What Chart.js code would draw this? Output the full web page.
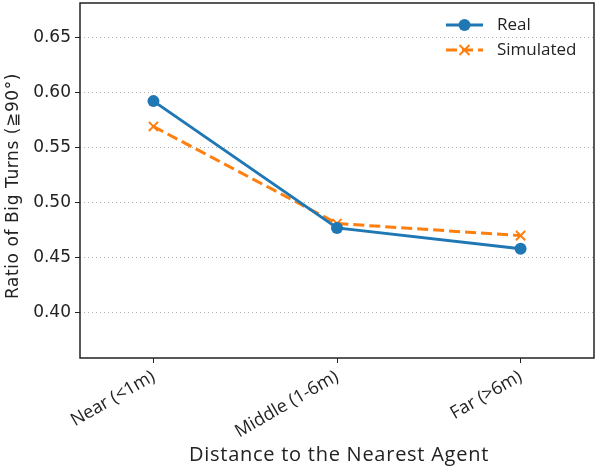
<!DOCTYPE html>
<html>
<head>
<meta charset="utf-8">
<script src="https://cdn.jsdelivr.net/npm/chart.js@4"></script>
<style>
  html, body { margin: 0; padding: 0; background: #fff; }
  #wrap { width: 597px; height: 469px; }
</style>
</head>
<body>
<div id="wrap"><canvas id="myChart" width="597" height="469"></canvas></div>
<script>
const categories = ['Near (<1m)', 'Middle (1-6m)', 'Far (>6m)'];
const realValues = [0.592, 0.477, 0.458];
const simValues = [0.569, 0.481, 0.470];
const yTicks = [0.40, 0.45, 0.50, 0.55, 0.60, 0.65];

const blue = '#1f77b4';
const orange = '#ff7f0e';
const tickFont = '"DejaVu Sans", sans-serif';
const labelFont = '"Open Sans", sans-serif';

// draw text so that it fills a given width
function fitText(c, text, x, y, width) {
    c.letterSpacing = '0px';
    const w = c.measureText(text).width;
    c.letterSpacing = ((width - w) / text.length) + 'px';
    c.fillText(text, x, y);
    c.letterSpacing = '0px';
}

// frame, axis titles and legend
const extras = {
    id: 'extras',
    afterDraw(chart) {
        const c = chart.ctx;
        const a = chart.chartArea;
        c.save();
        c.strokeStyle = '#222';
        c.lineWidth = 1.5;
        c.strokeRect(a.left, a.top, a.right - a.left, a.bottom - a.top);

        c.fillStyle = '#222';
        c.font = '20px ' + labelFont;
        c.textAlign = 'center';
        c.textBaseline = 'middle';
        fitText(c, 'Distance to the Nearest Agent', (a.left + a.right) / 2 + 2, 455, 300);

        c.translate(14, 186);
        c.rotate(-Math.PI / 2);
        c.font = '17px ' + tickFont;
        fitText(c, 'Ratio of Big Turns (\u226790\u00b0)', 0, 0, 226);
        c.restore();

        // legend
        c.save();
        const items = [
            { label: 'Real', color: blue, dash: [], marker: 'circle', y: 25 },
            { label: 'Simulated', color: orange, dash: [11, 5], marker: 'cross', y: 50 }
        ];
        items.forEach(it => {
            c.strokeStyle = it.color;
            c.lineWidth = 3;
            c.setLineDash(it.dash);
            c.beginPath();
            c.moveTo(446, it.y);
            c.lineTo(483, it.y);
            c.stroke();
            c.setLineDash([]);
            if (it.marker === 'circle') {
                c.fillStyle = it.color;
                c.beginPath();
                c.arc(464.5, it.y, 6, 0, Math.PI * 2);
                c.fill();
            } else {
                c.lineWidth = 2;
                c.beginPath();
                c.moveTo(459.5, it.y - 5); c.lineTo(469.5, it.y + 5);
                c.moveTo(469.5, it.y - 5); c.lineTo(459.5, it.y + 5);
                c.stroke();
            }
            c.fillStyle = '#222';
            c.font = '17px ' + labelFont;
            c.textAlign = 'left';
            c.textBaseline = 'middle';
            c.fillText(it.label, 497, it.y);
        });
        c.restore();
    }
};

const ctx = document.getElementById('myChart').getContext('2d');
const myChart = new Chart(ctx, {
    type: 'line',
    data: {
        datasets: [
            {
                label: 'Real',
                data: realValues.map((v, i) => ({ x: i, y: v })),
                borderColor: blue,
                backgroundColor: blue,
                borderWidth: 3,
                pointStyle: 'circle',
                pointRadius: 6,
                pointBorderWidth: 0
            },
            {
                label: 'Simulated',
                data: simValues.map((v, i) => ({ x: i, y: v })),
                borderColor: orange,
                backgroundColor: orange,
                borderWidth: 3,
                borderDash: [11, 5],
                pointStyle: 'crossRot',
                pointRadius: 6.5,
                pointBorderWidth: 2
            }
        ]
    },
    options: {
        responsive: false,
        animation: false,
        layout: { autoPadding: false, padding: { top: 3, right: 3, left: 0, bottom: 0 } },
        plugins: {
            legend: { display: false },
            tooltip: { enabled: false }
        },
        scales: {
            x: {
                type: 'linear',
                min: -0.4,
                max: 2.4,
                afterBuildTicks: s => { s.ticks = categories.map((_, i) => ({ value: i })); },
                afterFit: s => { s.height = 111; s.paddingLeft = 0; s.paddingRight = 0; },
                ticks: {
                    callback: v => categories[v],
                    minRotation: 30,
                    maxRotation: 30,
                    color: '#222',
                    font: { family: labelFont, size: 18 },
                    padding: 3
                },
                grid: { drawOnChartArea: false, drawTicks: true, tickLength: 5, tickColor: '#222' },
                border: { display: false }
            },
            y: {
                min: 0.359,
                max: 0.681,
                afterBuildTicks: s => { s.ticks = yTicks.map(v => ({ value: v })); },
                afterFit: s => { s.width = 80; s.paddingTop = 0; s.paddingBottom = 0; },
                ticks: {
                    callback: v => v.toFixed(2),
                    color: '#222',
                    font: { family: tickFont, size: 17 },
                    padding: 4
                },
                grid: {
                    color: '#b0b0b0',
                    lineWidth: 1,
                    tickLength: 5,
                    tickColor: '#222',
                    tickBorderDash: []
                },
                border: { display: false, dash: [1, 3] }
            }
        }
    },
    plugins: [extras]
});
</script>
</body>
</html>
